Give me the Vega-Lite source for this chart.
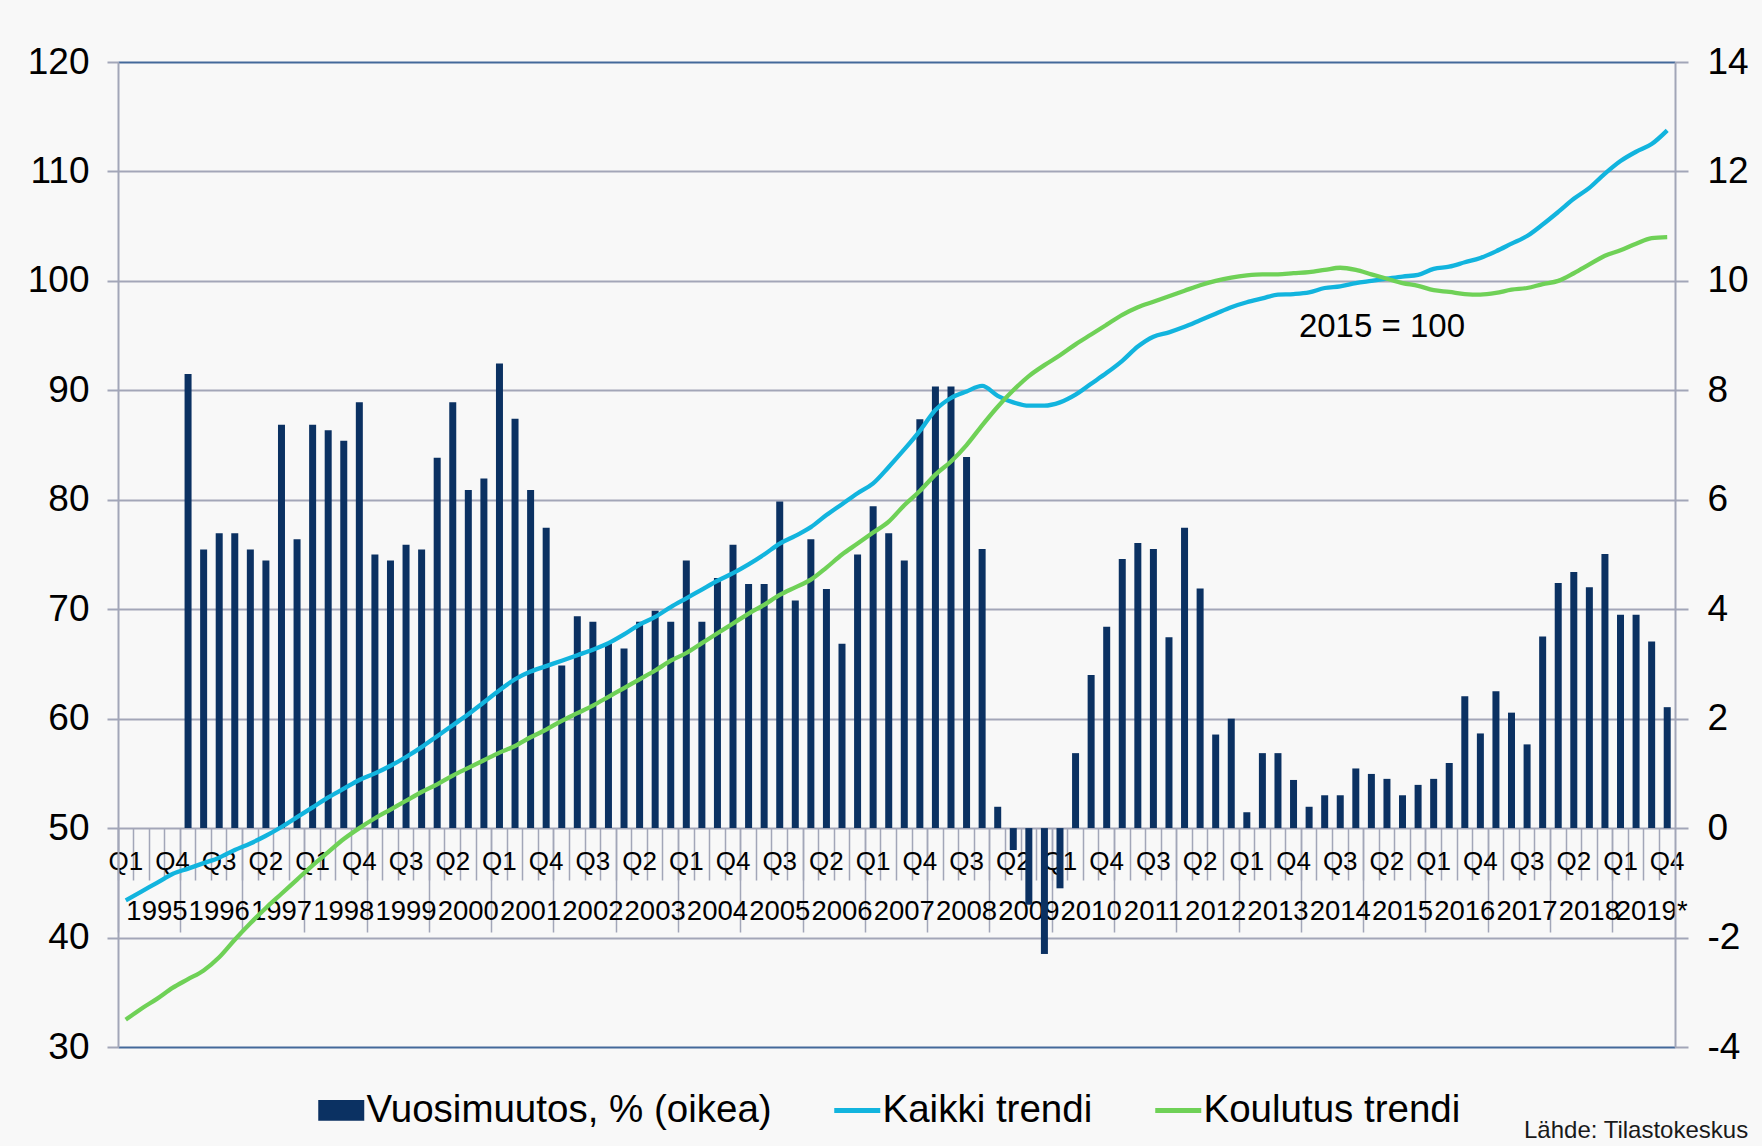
{
  "$schema": "https://vega.github.io/schema/vega-lite/v6.json",
  "width": 1557,
  "height": 985,
  "autosize": {"type": "none"},
  "padding": {"left": 118, "top": 62, "right": 87, "bottom": 99},
  "background": "#f8f8f8",
  "config": {
    "font": "Liberation Sans",
    "view": {"stroke": null},
    "axis": {"labelColor": "#000000", "titleColor": "#000000", "labelFont": "Liberation Sans"},
    "legend": {"labelFont": "Liberation Sans"}
  },
  "title": {
    "text": "Lähde: Tilastokeskus",
    "orient": "bottom",
    "anchor": "end",
    "frame": "bounds",
    "fontSize": 24,
    "fontWeight": "normal",
    "color": "#1a1a1a",
    "offset": -11
  },
  "data": {
    "values": [
      {"q": "1995 Q1", "muutos": null, "kaikki": 43.4, "koulutus": 32.5},
      {"q": "1995 Q2", "muutos": null, "kaikki": 44.2, "koulutus": 33.5},
      {"q": "1995 Q3", "muutos": null, "kaikki": 45.0, "koulutus": 34.4},
      {"q": "1995 Q4", "muutos": null, "kaikki": 45.8, "koulutus": 35.4},
      {"q": "1996 Q1", "muutos": 8.30, "kaikki": 46.3, "koulutus": 36.2},
      {"q": "1996 Q2", "muutos": 5.09, "kaikki": 46.8, "koulutus": 37.0},
      {"q": "1996 Q3", "muutos": 5.39, "kaikki": 47.3, "koulutus": 38.2},
      {"q": "1996 Q4", "muutos": 5.39, "kaikki": 48.0, "koulutus": 39.8},
      {"q": "1997 Q1", "muutos": 5.09, "kaikki": 48.6, "koulutus": 41.3},
      {"q": "1997 Q2", "muutos": 4.89, "kaikki": 49.3, "koulutus": 42.7},
      {"q": "1997 Q3", "muutos": 7.37, "kaikki": 50.1, "koulutus": 44.0},
      {"q": "1997 Q4", "muutos": 5.28, "kaikki": 51.0, "koulutus": 45.3},
      {"q": "1998 Q1", "muutos": 7.37, "kaikki": 51.9, "koulutus": 46.6},
      {"q": "1998 Q2", "muutos": 7.27, "kaikki": 52.8, "koulutus": 47.8},
      {"q": "1998 Q3", "muutos": 7.08, "kaikki": 53.6, "koulutus": 49.0},
      {"q": "1998 Q4", "muutos": 7.78, "kaikki": 54.4, "koulutus": 50.0},
      {"q": "1999 Q1", "muutos": 5.00, "kaikki": 55.0, "koulutus": 50.9},
      {"q": "1999 Q2", "muutos": 4.89, "kaikki": 55.7, "koulutus": 51.7},
      {"q": "1999 Q3", "muutos": 5.18, "kaikki": 56.5, "koulutus": 52.5},
      {"q": "1999 Q4", "muutos": 5.09, "kaikki": 57.4, "koulutus": 53.3},
      {"q": "2000 Q1", "muutos": 6.77, "kaikki": 58.4, "koulutus": 54.0},
      {"q": "2000 Q2", "muutos": 7.78, "kaikki": 59.4, "koulutus": 54.8},
      {"q": "2000 Q3", "muutos": 6.18, "kaikki": 60.4, "koulutus": 55.5},
      {"q": "2000 Q4", "muutos": 6.39, "kaikki": 61.5, "koulutus": 56.2},
      {"q": "2001 Q1", "muutos": 8.49, "kaikki": 62.6, "koulutus": 56.9},
      {"q": "2001 Q2", "muutos": 7.48, "kaikki": 63.6, "koulutus": 57.5},
      {"q": "2001 Q3", "muutos": 6.18, "kaikki": 64.3, "koulutus": 58.3},
      {"q": "2001 Q4", "muutos": 5.49, "kaikki": 64.8, "koulutus": 59.0},
      {"q": "2002 Q1", "muutos": 2.97, "kaikki": 65.3, "koulutus": 59.8},
      {"q": "2002 Q2", "muutos": 3.87, "kaikki": 65.8, "koulutus": 60.5},
      {"q": "2002 Q3", "muutos": 3.77, "kaikki": 66.3, "koulutus": 61.2},
      {"q": "2002 Q4", "muutos": 3.37, "kaikki": 66.9, "koulutus": 62.0},
      {"q": "2003 Q1", "muutos": 3.28, "kaikki": 67.7, "koulutus": 62.8},
      {"q": "2003 Q2", "muutos": 3.77, "kaikki": 68.6, "koulutus": 63.6},
      {"q": "2003 Q3", "muutos": 3.97, "kaikki": 69.3, "koulutus": 64.4},
      {"q": "2003 Q4", "muutos": 3.77, "kaikki": 70.2, "koulutus": 65.3},
      {"q": "2004 Q1", "muutos": 4.89, "kaikki": 71.0, "koulutus": 66.0},
      {"q": "2004 Q2", "muutos": 3.77, "kaikki": 71.8, "koulutus": 66.9},
      {"q": "2004 Q3", "muutos": 4.57, "kaikki": 72.6, "koulutus": 67.8},
      {"q": "2004 Q4", "muutos": 5.18, "kaikki": 73.3, "koulutus": 68.7},
      {"q": "2005 Q1", "muutos": 4.46, "kaikki": 74.1, "koulutus": 69.6},
      {"q": "2005 Q2", "muutos": 4.46, "kaikki": 75.0, "koulutus": 70.4},
      {"q": "2005 Q3", "muutos": 5.97, "kaikki": 76.0, "koulutus": 71.3},
      {"q": "2005 Q4", "muutos": 4.16, "kaikki": 76.7, "koulutus": 72.0},
      {"q": "2006 Q1", "muutos": 5.28, "kaikki": 77.5, "koulutus": 72.7},
      {"q": "2006 Q2", "muutos": 4.37, "kaikki": 78.6, "koulutus": 73.8},
      {"q": "2006 Q3", "muutos": 3.37, "kaikki": 79.6, "koulutus": 75.0},
      {"q": "2006 Q4", "muutos": 5.00, "kaikki": 80.6, "koulutus": 76.0},
      {"q": "2007 Q1", "muutos": 5.88, "kaikki": 81.5, "koulutus": 77.0},
      {"q": "2007 Q2", "muutos": 5.39, "kaikki": 83.0, "koulutus": 78.0},
      {"q": "2007 Q3", "muutos": 4.89, "kaikki": 84.6, "koulutus": 79.5},
      {"q": "2007 Q4", "muutos": 7.47, "kaikki": 86.3, "koulutus": 80.8},
      {"q": "2008 Q1", "muutos": 8.07, "kaikki": 88.2, "koulutus": 82.3},
      {"q": "2008 Q2", "muutos": 8.07, "kaikki": 89.3, "koulutus": 83.5},
      {"q": "2008 Q3", "muutos": 6.78, "kaikki": 89.9, "koulutus": 85.0},
      {"q": "2008 Q4", "muutos": 5.10, "kaikki": 90.4, "koulutus": 86.8},
      {"q": "2009 Q1", "muutos": 0.39, "kaikki": 89.5, "koulutus": 88.5},
      {"q": "2009 Q2", "muutos": -0.40, "kaikki": 88.9, "koulutus": 90.0},
      {"q": "2009 Q3", "muutos": -1.40, "kaikki": 88.6, "koulutus": 91.3},
      {"q": "2009 Q4", "muutos": -2.30, "kaikki": 88.6, "koulutus": 92.3},
      {"q": "2010 Q1", "muutos": -1.10, "kaikki": 88.9, "koulutus": 93.2},
      {"q": "2010 Q2", "muutos": 1.37, "kaikki": 89.6, "koulutus": 94.2},
      {"q": "2010 Q3", "muutos": 2.80, "kaikki": 90.6, "koulutus": 95.1},
      {"q": "2010 Q4", "muutos": 3.68, "kaikki": 91.6, "koulutus": 96.0},
      {"q": "2011 Q1", "muutos": 4.92, "kaikki": 92.7, "koulutus": 96.9},
      {"q": "2011 Q2", "muutos": 5.21, "kaikki": 94.0, "koulutus": 97.6},
      {"q": "2011 Q3", "muutos": 5.10, "kaikki": 94.9, "koulutus": 98.1},
      {"q": "2011 Q4", "muutos": 3.49, "kaikki": 95.3, "koulutus": 98.6},
      {"q": "2012 Q1", "muutos": 5.49, "kaikki": 95.8, "koulutus": 99.1},
      {"q": "2012 Q2", "muutos": 4.38, "kaikki": 96.4, "koulutus": 99.6},
      {"q": "2012 Q3", "muutos": 1.71, "kaikki": 97.0, "koulutus": 100.0},
      {"q": "2012 Q4", "muutos": 2.00, "kaikki": 97.6, "koulutus": 100.3},
      {"q": "2013 Q1", "muutos": 0.29, "kaikki": 98.05, "koulutus": 100.5},
      {"q": "2013 Q2", "muutos": 1.37, "kaikki": 98.4, "koulutus": 100.6},
      {"q": "2013 Q3", "muutos": 1.37, "kaikki": 98.75, "koulutus": 100.6},
      {"q": "2013 Q4", "muutos": 0.88, "kaikki": 98.8, "koulutus": 100.7},
      {"q": "2014 Q1", "muutos": 0.39, "kaikki": 98.95, "koulutus": 100.8},
      {"q": "2014 Q2", "muutos": 0.60, "kaikki": 99.35, "koulutus": 101.0},
      {"q": "2014 Q3", "muutos": 0.60, "kaikki": 99.5, "koulutus": 101.2},
      {"q": "2014 Q4", "muutos": 1.09, "kaikki": 99.8, "koulutus": 101.0},
      {"q": "2015 Q1", "muutos": 0.99, "kaikki": 100.0, "koulutus": 100.6},
      {"q": "2015 Q2", "muutos": 0.90, "kaikki": 100.2, "koulutus": 100.2},
      {"q": "2015 Q3", "muutos": 0.60, "kaikki": 100.4, "koulutus": 99.8},
      {"q": "2015 Q4", "muutos": 0.79, "kaikki": 100.55, "koulutus": 99.55},
      {"q": "2016 Q1", "muutos": 0.90, "kaikki": 101.1, "koulutus": 99.15},
      {"q": "2016 Q2", "muutos": 1.19, "kaikki": 101.3, "koulutus": 99.0},
      {"q": "2016 Q3", "muutos": 2.41, "kaikki": 101.7, "koulutus": 98.8},
      {"q": "2016 Q4", "muutos": 1.73, "kaikki": 102.1, "koulutus": 98.75},
      {"q": "2017 Q1", "muutos": 2.50, "kaikki": 102.7, "koulutus": 98.9},
      {"q": "2017 Q2", "muutos": 2.11, "kaikki": 103.4, "koulutus": 99.2},
      {"q": "2017 Q3", "muutos": 1.53, "kaikki": 104.1, "koulutus": 99.35},
      {"q": "2017 Q4", "muutos": 3.50, "kaikki": 105.15, "koulutus": 99.7},
      {"q": "2018 Q1", "muutos": 4.48, "kaikki": 106.3, "koulutus": 100.0},
      {"q": "2018 Q2", "muutos": 4.68, "kaikki": 107.5, "koulutus": 100.7},
      {"q": "2018 Q3", "muutos": 4.40, "kaikki": 108.5, "koulutus": 101.5},
      {"q": "2018 Q4", "muutos": 5.01, "kaikki": 109.8, "koulutus": 102.3},
      {"q": "2019 Q1", "muutos": 3.90, "kaikki": 110.95, "koulutus": 102.8},
      {"q": "2019 Q2", "muutos": 3.90, "kaikki": 111.8, "koulutus": 103.4},
      {"q": "2019 Q3", "muutos": 3.41, "kaikki": 112.5, "koulutus": 103.9},
      {"q": "2019 Q4", "muutos": 2.21, "kaikki": 113.75, "koulutus": 104.0}
    ]
  },
  "resolve": {
    "scale": {"y": "independent"},
    "axis": {"x": "independent", "y": "independent"}
  },
  "layer": [
    {
      "mark": {"type": "bar", "size": 7},
      "encoding": {
        "x": {
          "field": "q", "type": "ordinal", "sort": "ascending",
          "scale": {"type": "band", "paddingInner": 0, "paddingOuter": 0},
          "axis": {
            "orient": "bottom", "offset": -219, "bandPosition": 0,
            "labels": false, "domain": false, "grid": false, "title": null,
            "ticks": true, "tickSize": 52, "tickColor": "#a2a6b8", "tickWidth": 1.5
          }
        },
        "y": {
          "field": "muutos", "type": "quantitative",
          "scale": {"domain": [-4, 14], "nice": false, "zero": false},
          "axis": {
            "orient": "right", "title": null, "grid": false,
            "values": [-4, -2, 0, 2, 4, 6, 8, 10, 12, 14],
            "labelExpr": "replace(datum.label, '−', '-')",
            "labelFontSize": 37, "labelPadding": 19,
            "tickSize": 13, "tickColor": "#a2a6b8", "tickWidth": 2,
            "domainColor": "#a2a6b8", "domainWidth": 2
          }
        },
        "color": {
          "datum": "Vuosimuutos, % (oikea)", "type": "nominal",
          "scale": {
            "domain": ["Vuosimuutos, % (oikea)", "Kaikki trendi", "Koulutus trendi"],
            "range": ["#0b3162", "#12b4de", "#6fd157"]
          },
          "legend": {
            "title": null, "orient": "none", "legendX": 204, "legendY": 1029,
            "direction": "horizontal", "padding": 0,
            "labelFontSize": 38.5, "labelColor": "#000000", "labelLimit": 600,
            "labelOffset": 6, "columnPadding": 52,
            "symbolSize": 2116, "symbolStrokeWidth": 4.5,
            "encode": {
              "symbols": {
                "update": {
                  "shape": {"signal": "datum.value == 'Vuosimuutos, % (oikea)' ? 'M-1,-0.45H1V0.45H-1Z' : 'M-1,0H1'"},
                  "fill": {"signal": "datum.value == 'Vuosimuutos, % (oikea)' ? '#0b3162' : 'transparent'"},
                  "stroke": {"signal": "datum.value == 'Vuosimuutos, % (oikea)' ? '#0b3162' : (datum.value == 'Kaikki trendi' ? '#12b4de' : '#6fd157')"},
                  "strokeWidth": {"signal": "datum.value == 'Vuosimuutos, % (oikea)' ? 0 : 5"},
                  "opacity": {"value": 1}
                }
              }
            }
          }
        }
      }
    },
    {
      "mark": {"type": "line", "strokeWidth": 4.3, "interpolate": "monotone"},
      "encoding": {
        "x": {
          "field": "q", "type": "ordinal", "sort": "ascending",
          "axis": {
            "orient": "bottom", "offset": -219, "bandPosition": 0,
            "labels": false, "domain": false, "grid": false, "title": null,
            "values": ["1995 Q1", "1996 Q1", "1997 Q1", "1998 Q1", "1999 Q1", "2000 Q1", "2001 Q1", "2002 Q1", "2003 Q1", "2004 Q1", "2005 Q1", "2006 Q1", "2007 Q1", "2008 Q1", "2009 Q1", "2010 Q1", "2011 Q1", "2012 Q1", "2013 Q1", "2014 Q1", "2015 Q1", "2016 Q1", "2017 Q1", "2018 Q1", "2019 Q1"],
            "ticks": true, "tickSize": 104, "tickColor": "#a2a6b8", "tickWidth": 1.5
          }
        },
        "y": {
          "field": "kaikki", "type": "quantitative",
          "scale": {"domain": [30, 120], "nice": false, "zero": false},
          "axis": {
            "orient": "left", "title": null,
            "values": [30, 40, 50, 60, 70, 80, 90, 100, 110, 120],
            "labelFontSize": 37, "labelPadding": 18,
            "tickSize": 11, "tickColor": "#a2a6b8", "tickWidth": 2,
            "domainColor": "#a2a6b8", "domainWidth": 2,
            "grid": true,
            "gridColor": {"condition": {"test": "datum.value == 120 || datum.value == 30", "value": "#44699a"}, "value": "#a3a6b8"},
            "gridWidth": 2
          }
        },
        "color": {"datum": "Kaikki trendi", "type": "nominal"}
      }
    },
    {
      "mark": {"type": "line", "strokeWidth": 4.3, "interpolate": "monotone"},
      "encoding": {
        "x": {
          "field": "q", "type": "ordinal", "sort": "ascending",
          "axis": {
            "orient": "bottom", "offset": -219, "bandPosition": 0.5,
            "domain": false, "grid": false, "title": null,
            "ticks": false, "tickSize": 0,
            "values": ["1995 Q1", "1995 Q4", "1996 Q3", "1997 Q2", "1998 Q1", "1998 Q4", "1999 Q3", "2000 Q2", "2001 Q1", "2001 Q4", "2002 Q3", "2003 Q2", "2004 Q1", "2004 Q4", "2005 Q3", "2006 Q2", "2007 Q1", "2007 Q4", "2008 Q3", "2009 Q2", "2010 Q1", "2010 Q4", "2011 Q3", "2012 Q2", "2013 Q1", "2013 Q4", "2014 Q3", "2015 Q2", "2016 Q1", "2016 Q4", "2017 Q3", "2018 Q2", "2019 Q1", "2019 Q4"],
            "labelExpr": "substring(datum.value, 5)",
            "labelAngle": 0, "labelFontSize": 26, "labelPadding": 20,
            "labelOverlap": false, "labelFlush": false, "labelBound": false
          }
        },
        "y": {
          "field": "koulutus", "type": "quantitative",
          "scale": {"domain": [30, 120], "nice": false, "zero": false},
          "axis": null
        },
        "color": {"datum": "Koulutus trendi", "type": "nominal"}
      }
    },
    {
      "data": {"values": [{"q": "2015 Q2", "v": 95.8, "t": "2015 = 100"}]},
      "mark": {"type": "text", "fontSize": 33, "align": "center", "baseline": "middle", "color": "#000000", "dx": -5},
      "encoding": {
        "x": {
          "field": "q", "type": "ordinal", "sort": "ascending",
          "axis": {
            "orient": "bottom", "offset": -219, "bandPosition": 0,
            "domain": false, "grid": false, "title": null,
            "ticks": false, "tickSize": 0,
            "values": ["1995 Q3", "1996 Q3", "1997 Q3", "1998 Q3", "1999 Q3", "2000 Q3", "2001 Q3", "2002 Q3", "2003 Q3", "2004 Q3", "2005 Q3", "2006 Q3", "2007 Q3", "2008 Q3", "2009 Q3", "2010 Q3", "2011 Q3", "2012 Q3", "2013 Q3", "2014 Q3", "2015 Q3", "2016 Q3", "2017 Q3", "2018 Q3", "2019 Q3"],
            "labelExpr": "datum.value == '2019 Q3' ? '2019*' : substring(datum.value, 0, 4)",
            "labelAngle": 0, "labelFontSize": 27.5, "labelPadding": 69,
            "labelOverlap": false, "labelFlush": false, "labelBound": false
          }
        },
        "y": {
          "field": "v", "type": "quantitative",
          "scale": {"domain": [30, 120], "nice": false, "zero": false},
          "axis": null
        },
        "text": {"field": "t"}
      }
    }
  ]
}
